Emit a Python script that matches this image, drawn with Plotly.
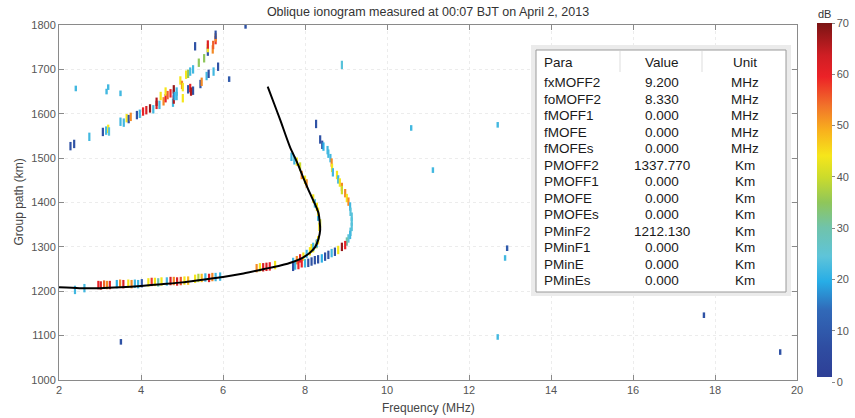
import plotly.graph_objects as go

# ---- Echo data: frequency (MHz), group path (km), amplitude (dB) ----
# Multi-hop echoes (upper-left branch)
hop2_freq = [2.28, 2.37, 2.74, 3.07, 3.15, 3.20, 3.22, 3.50, 3.58, 3.65, 3.70, 3.75,
             3.90, 3.97, 4.05, 4.13, 4.22, 4.30, 4.38, 4.38, 4.45, 4.48, 4.55, 4.60,
             4.60, 4.65, 4.72, 4.78, 4.80, 4.80, 4.80, 4.82, 4.87, 4.87, 4.96, 5.00,
             5.02, 5.02, 5.10, 5.15, 5.20, 5.27, 5.15, 5.20, 5.27, 5.22, 5.41, 5.45,
             5.48, 5.54, 5.60, 5.65, 5.63, 5.63, 5.63, 5.75, 5.76, 5.82, 5.82, 5.82,
             5.77, 5.88, 5.32]
hop2_path = [1527, 1532, 1548, 1559, 1562, 1566, 1560, 1582, 1580, 1590, 1588, 1593,
             1597, 1600, 1605, 1608, 1612, 1610, 1620, 1627, 1620, 1640, 1628, 1635,
             1650, 1642, 1646, 1625, 1632, 1645, 1655, 1640, 1650, 1640, 1675, 1665,
             1660, 1635, 1688, 1690, 1695, 1700, 1655, 1658, 1652, 1650, 1715, 1667,
             1672, 1725, 1685, 1690, 1740, 1748, 1756, 1745, 1755, 1766, 1772, 1778,
             1695, 1706, 1752]
hop2_db = [8, 8, 22, 8, 22, 44, 24, 22, 22, 44, 8, 52,
           8, 22, 60, 62, 68, 22, 62, 66, 22, 44, 52, 60,
           44, 55, 60, 22, 66, 8, 68, 20, 22, 22, 44, 52,
           44, 44, 44, 35, 22, 22, 8, 60, 8, 66, 35, 8,
           52, 35, 22, 8, 8, 44, 62, 52, 55, 58, 52, 8,
           22, 8, 8]

# Ordinary F2 trace
o_freq = [2.39, 2.62, 2.96, 3.02, 3.10, 3.17, 3.24, 3.41, 3.49, 3.57, 3.69, 3.77,
          3.85, 3.93, 4.02, 4.18, 4.26, 4.34, 4.42, 4.50, 4.63, 4.72, 4.80, 4.88,
          4.97, 5.06, 5.15, 5.32, 5.40, 5.48, 5.57, 5.66, 5.74, 5.82, 5.93, 6.82,
          6.90, 6.98, 7.06, 7.14, 7.27, 7.71, 7.80, 7.88, 7.96, 8.04, 8.12, 8.20,
          8.28, 8.16, 8.20, 8.29, 8.32, 8.35, 8.37, 8.32, 8.32, 8.29, 8.24, 8.20,
          8.04, 8.00, 7.92, 7.88, 7.80, 7.74, 7.67]
o_path = [1203, 1207, 1214, 1213, 1215, 1214, 1214, 1216, 1217, 1216, 1217, 1216,
          1217, 1216, 1218, 1220, 1221, 1221, 1220, 1222, 1222, 1223, 1223, 1222,
          1223, 1224, 1224, 1228, 1230, 1230, 1231, 1230, 1232, 1232, 1233, 1252,
          1254, 1254, 1255, 1256, 1259, 1266, 1270, 1274, 1278, 1284, 1290, 1297,
          1306, 1297, 1300, 1308, 1315, 1345, 1353, 1368, 1379, 1390, 1398, 1409,
          1443, 1451, 1462, 1481, 1492, 1495, 1503]
o_db = [22, 22, 60, 62, 55, 52, 62, 20, 52, 62, 44, 52,
        22, 22, 10, 44, 58, 44, 30, 44, 22, 62, 52, 62,
        56, 44, 48, 44, 38, 48, 22, 62, 52, 22, 22, 52,
        44, 62, 62, 60, 44, 22, 52, 62, 44, 22, 44, 44,
        40, 44, 22, 22, 44, 44, 40, 22, 44, 44, 22, 44,
        52, 44, 52, 40, 44, 22, 22]

# Extraordinary F2 trace
x_freq = [8.27, 8.37, 8.42, 8.45, 8.55, 8.57, 8.62, 8.65, 8.66, 8.68, 8.78, 8.81,
          8.85, 8.90, 8.90, 8.98, 9.02, 9.06, 9.10, 9.11, 9.14, 9.14, 9.14, 9.11,
          9.10, 9.06, 9.02, 8.98, 8.90, 8.81, 8.73, 8.65, 8.57, 8.49, 8.41, 8.32,
          8.24, 8.16, 8.08, 8.00, 7.92, 7.84, 7.76, 7.71, 8.90]
x_path = [1577, 1542, 1530, 1526, 1518, 1510, 1500, 1490, 1478, 1468, 1462, 1452,
          1445, 1435, 1428, 1421, 1410, 1402, 1391, 1379, 1368, 1357, 1345, 1334,
          1327, 1319, 1312, 1304, 1300, 1293, 1289, 1286, 1282, 1278, 1274, 1272,
          1270, 1267, 1264, 1263, 1263, 1259, 1258, 1255, 1710]
x_db = [8, 8, 8, 20, 22, 22, 22, 52, 44, 22, 44, 22,
        44, 52, 40, 52, 44, 52, 22, 24, 24, 24, 24, 24,
        22, 24, 30, 60, 68, 44, 8, 22, 8, 8, 20, 8,
        8, 8, 8, 22, 60, 60, 22, 8, 24]

# Isolated returns / interference
noise_freq = [2.41, 3.16, 3.20, 3.50, 6.15, 6.55, 10.59, 11.12, 12.70, 12.93, 12.88,
              12.70, 3.51, 17.73, 19.59]
noise_path = [1657, 1650, 1660, 1646, 1678, 1798, 1568, 1473, 1575, 1297, 1275,
              1097, 1086, 1146, 1063]
noise_db = [22, 22, 22, 22, 10, 8, 22, 22, 22, 10, 22, 22, 8, 8, 8]

# Fitted model trace (black curve)
fit_freq = [2.00, 2.50, 3.00, 3.50, 4.00, 4.50, 5.00, 5.50, 6.00, 6.50, 7.00, 7.40,
            7.70, 7.95, 8.12, 8.25, 8.33, 8.37, 8.36, 8.33, 8.25, 8.12, 7.95, 7.80,
            7.63, 7.40, 7.25, 7.09]
fit_path = [1209, 1207, 1207, 1209, 1212, 1216, 1220, 1226, 1232, 1240, 1250, 1258,
            1266, 1276, 1287, 1300, 1318, 1338, 1355, 1376, 1395, 1421, 1458, 1492,
            1526, 1585, 1622, 1661]

# Scaled parameter table
para_names = ["fxMOFF2", "foMOFF2", "fMOFF1", "fMOFE", "fMOFEs", "PMOFF2", "PMOFF1",
              "PMOFE", "PMOFEs", "PMinF2", "PMinF1", "PMinE", "PMinEs"]
para_values = ["9.200", "8.330", "0.000", "0.000", "0.000", "1337.770", "0.000",
               "0.000", "0.000", "1212.130", "0.000", "0.000", "0.000"]
para_units = ["MHz", "MHz", "MHz", "MHz", "MHz", "Km", "Km", "Km", "Km", "Km", "Km",
              "Km", "Km"]
table_header = ["Para", "Value", "Unit"]

x_ticks = list(range(2, 21, 2))
y_ticks = list(range(1000, 1801, 100))
cbar_ticks = list(range(0, 71, 10))

db_scale = [
    [0.0, "#ffffff"], [0.014, "#ffffff"], [0.015, "#2e3f96"], [0.10, "#2f4ea2"],
    [0.20, "#3169b8"], [0.28, "#27ade6"], [0.35, "#5ec4d9"], [0.43, "#70c3ab"],
    [0.50, "#8fc65a"], [0.57, "#cbdb2c"], [0.63, "#f6e61b"], [0.70, "#f8b11d"],
    [0.77, "#f1722a"], [0.85, "#ec2227"], [0.91, "#cf1e24"], [1.0, "#7a1414"],
]

GRAY = "#8a8a8a"
NARROW = "Liberation Sans Narrow, Liberation Sans, Arial"

fig = go.Figure()


def echo_trace(fx, gy, db, size=6, width=2.2, show_scale=False):
    return go.Scatter(
        x=fx, y=gy, mode="markers", showlegend=False, hoverinfo="skip",
        marker=dict(
            symbol="line-ns", size=size,
            color=db, colorscale=db_scale, cmin=0, cmax=70,
            showscale=show_scale,
            colorbar=dict(
                x=1.0 + 20 / 738, xanchor="left", xpad=0, xref="paper",
                y=0.5, yanchor="middle", len=1.01, thickness=15, ypad=0,
                outlinewidth=0, tickvals=cbar_ticks, ticks="outside",
                ticklen=3, tickcolor=GRAY,
                tickfont=dict(family=NARROW, size=11, color="#555"),
            ),
            line=dict(color=db, colorscale=db_scale, cmin=0, cmax=70, width=width),
        ),
    )


fig.add_trace(echo_trace(hop2_freq, hop2_path, hop2_db, show_scale=True))
fig.add_trace(echo_trace(o_freq, o_path, o_db))
fig.add_trace(echo_trace(x_freq, x_path, x_db))
fig.add_trace(echo_trace(noise_freq, noise_path, noise_db, size=4, width=2.4))

fig.add_trace(go.Scatter(
    x=fit_freq, y=fit_path, mode="lines", showlegend=False, hoverinfo="skip",
    line=dict(color="black", width=2, shape="spline", smoothing=0.7),
))


# helpers to place the parameter panel in pixel units of the plot area
def pxx(p):
    return (p - 59) / 738


def pxy(p):
    return (380 - p) / 355


shapes = [
    dict(type="rect", xref="paper", yref="paper", x0=pxx(531), x1=pxx(791),
         y0=pxy(296), y1=pxy(45), fillcolor="#ebebeb", line=dict(width=0), layer="above"),
    dict(type="rect", xref="paper", yref="paper", x0=pxx(536), x1=pxx(786),
         y0=pxy(292), y1=pxy(50), fillcolor="#ffffff",
         line=dict(color="#9a9a9a", width=1), layer="above"),
    dict(type="line", xref="paper", yref="paper", x0=pxx(620), x1=pxx(620),
         y0=pxy(72), y1=pxy(51), line=dict(color="#dddddd", width=1), layer="above"),
    dict(type="line", xref="paper", yref="paper", x0=pxx(702), x1=pxx(702),
         y0=pxy(72), y1=pxy(51), line=dict(color="#dddddd", width=1), layer="above"),
]

TABLE_FONT = dict(family="Liberation Sans, Arial", size=13.5, color="#1a1a1a")
annotations = []
col_x = [(pxx(542), "left"), (pxx(662), "center"), (pxx(745), "center")]
for (cx, anchor), head in zip(col_x, table_header):
    annotations.append(dict(xref="paper", yref="paper", x=cx, y=pxy(62.5), text=head,
                            showarrow=False, xanchor=anchor, yanchor="middle",
                            font=TABLE_FONT))
for i, (nm, val, unit) in enumerate(zip(para_names, para_values, para_units)):
    ypos = pxy(82.7 + 16.5 * i)
    for (cx, anchor), txt in zip(col_x, (nm, val, unit)):
        annotations.append(dict(xref="paper", yref="paper", x=cx, y=ypos, text=txt,
                                showarrow=False, xanchor=anchor, yanchor="middle",
                                font=TABLE_FONT))

# colour bar unit label
annotations.append(dict(xref="paper", yref="paper", x=pxx(824), y=pxy(14), text="dB",
                        showarrow=False, xanchor="center", yanchor="middle",
                        font=dict(family=NARROW, size=11, color="#333")))

# axis titles
annotations.append(dict(xref="paper", yref="paper", x=pxx(18), y=0.5,
                        text="Group path (km)", textangle=-90, showarrow=False,
                        xanchor="center", yanchor="middle",
                        font=dict(family=NARROW, size=12, color="#444")))
annotations.append(dict(xref="paper", yref="paper", x=0.5, y=pxy(408),
                        text="Frequency (MHz)", showarrow=False,
                        xanchor="center", yanchor="middle",
                        font=dict(family=NARROW, size=12, color="#444")))

AXIS_FONT = dict(family=NARROW, size=11, color="#555")

fig.update_layout(
    width=855, height=418,
    margin=dict(l=59, r=58, t=25, b=38, autoexpand=False),
    paper_bgcolor="white", plot_bgcolor="white",
    title=dict(text="Oblique ionogram measured at 00:07 BJT on April 2, 2013",
               x=0.5, xref="paper", xanchor="center", y=1 - 12 / 418, yref="container",
               yanchor="middle",
               font=dict(family=NARROW, size=12.5, color="#333")),
    xaxis=dict(range=[2, 20], tickvals=x_ticks, showline=True, linecolor=GRAY,
               linewidth=1, mirror="ticks", ticks="inside", ticklen=5, tickcolor=GRAY,
               showgrid=True, gridcolor="#ececec", griddash="dot", zeroline=False,
               tickfont=AXIS_FONT, automargin=False),
    yaxis=dict(range=[1000, 1800], tickvals=y_ticks, showline=True, linecolor=GRAY,
               linewidth=1, mirror="ticks", ticks="inside", ticklen=5, tickcolor=GRAY,
               showgrid=True, gridcolor="#ececec", griddash="dot", zeroline=False,
               tickfont=AXIS_FONT, automargin=False),
    shapes=shapes,
    annotations=annotations,
)

fig.write_html("out.html")
